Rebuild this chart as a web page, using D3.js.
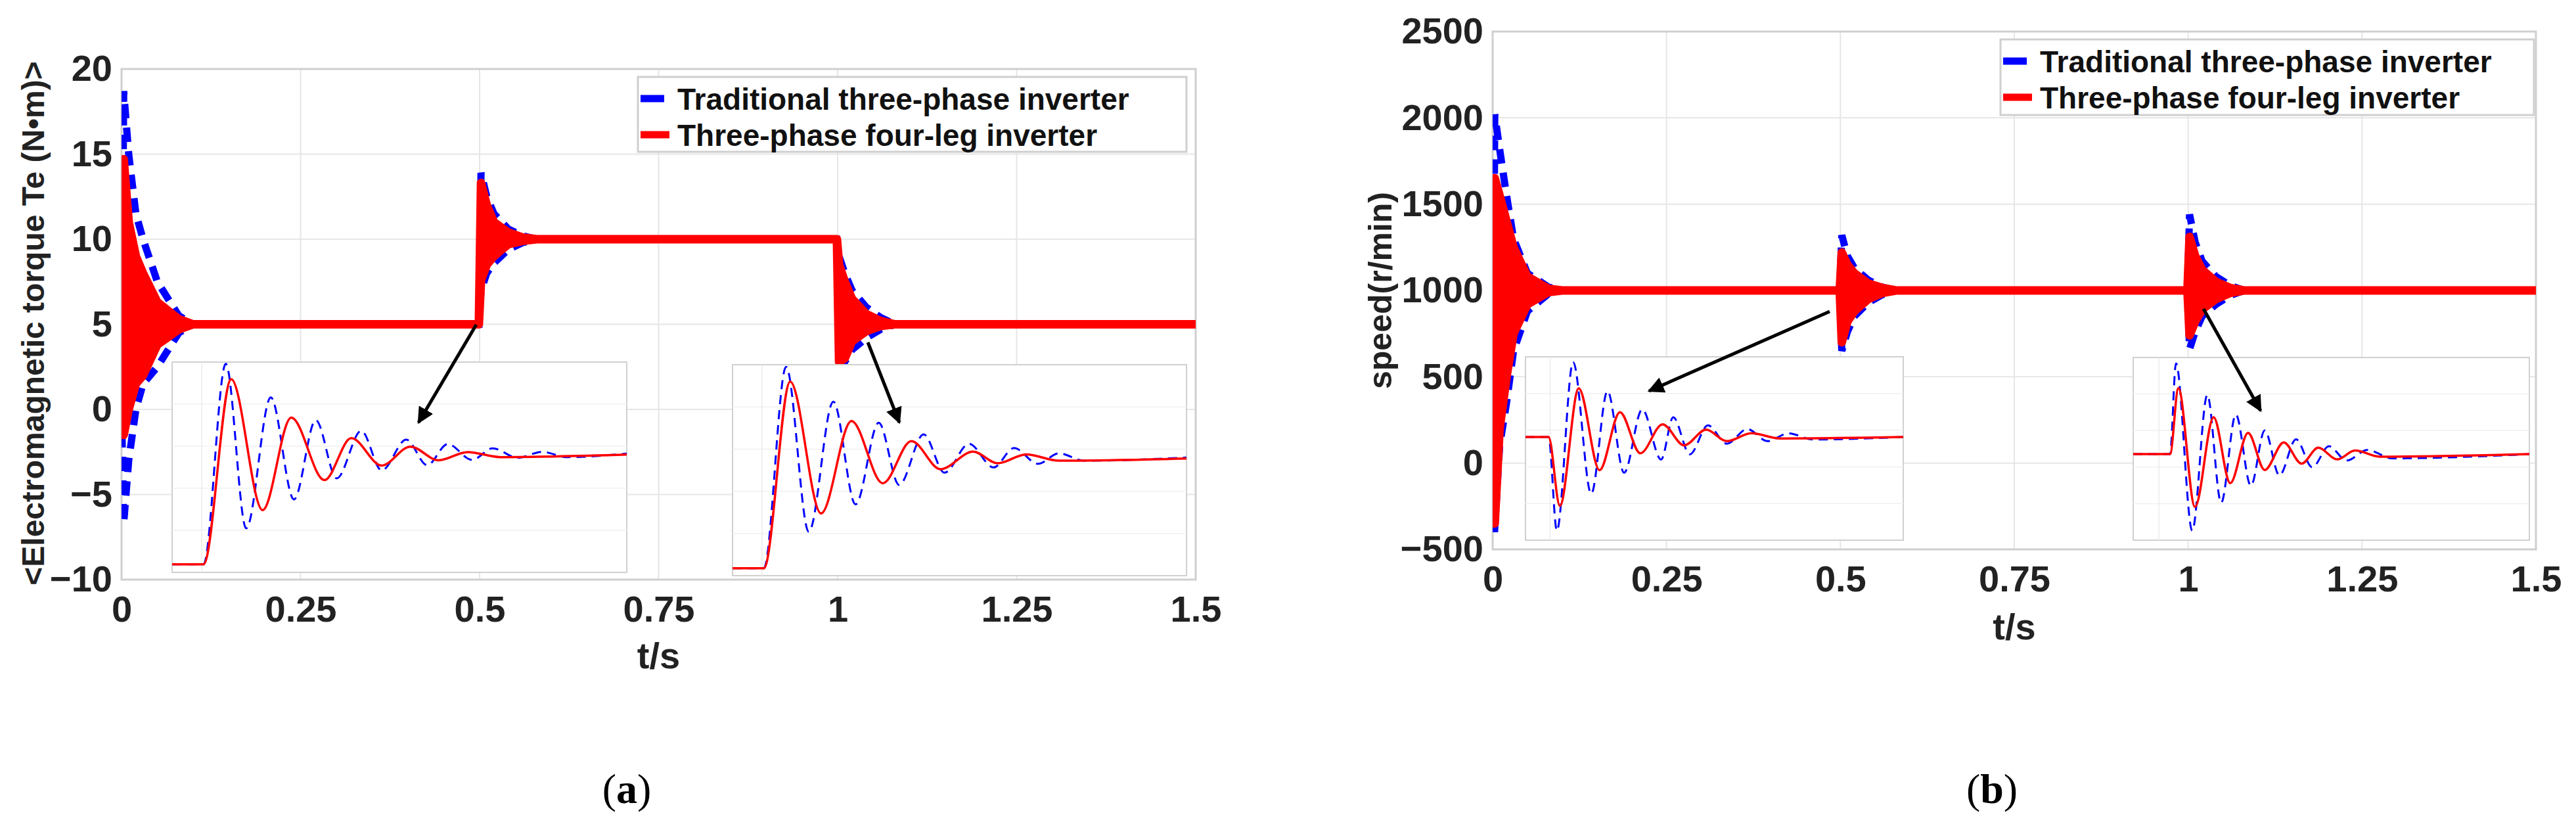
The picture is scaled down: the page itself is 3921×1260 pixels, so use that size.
<!DOCTYPE html>
<html><head><meta charset="utf-8">
<script src="https://cdn.jsdelivr.net/npm/d3@7"></script>
<style>body{margin:0;background:#fff}svg{display:block}</style>
</head><body>
<script>
// ---------- data ----------
const xTicks = [0, 0.25, 0.5, 0.75, 1, 1.25, 1.5];
const xTickLabels = ["0", "0.25", "0.5", "0.75", "1", "1.25", "1.5"];
const torqueTicks = [-10, -5, 0, 5, 10, 15, 20];
const speedTicks = [-500, 0, 500, 1000, 1500, 2000, 2500];
const seriesNames = ["Traditional three-phase inverter", "Three-phase four-leg inverter"];

const envT = [0, 0.003, 0.01, 0.02, 0.03, 0.05, 0.08, 0.1, 0.499, 0.502, 0.51, 0.52, 0.54, 0.56, 0.58, 0.999, 1.002, 1.01, 1.02, 1.04, 1.06, 1.08, 1.5];
const torqueRedHi  = [0, 14.7, 11, 9, 8, 6.3, 5.3, 5, 5, 13.3, 12, 11, 10.4, 10.1, 10, 10, 8.5, 7.5, 6.5, 5.6, 5.2, 5, 5];
const torqueRedLo  = [0, -1.5, 0, 1.5, 2, 3.8, 4.7, 5, 5, 7.6, 8.5, 9, 9.7, 9.9, 10, 10, 2.8, 3, 4, 4.6, 4.9, 5, 5];
const torqueBlueHi = [0, 18.7, 15, 11.5, 10, 7.5, 5.5, 5, 5, 13.9, 12.5, 11.5, 10.6, 10.2, 10, 10, 9, 8, 7, 6, 5.4, 5, 5];
const torqueBlueLo = [0, -6.7, -3, 0, 1.5, 2.5, 4.5, 5, 5, 7, 8, 8.6, 9.4, 9.8, 10, 10, 2.5, 2.8, 3.5, 4.2, 4.7, 5, 5];

const speedRedHi  = [-350, 1650, 1550, 1400, 1250, 1080, 1010, 1000, 1000, 1220, 1150, 1100, 1040, 1015, 1000, 1000, 1310, 1200, 1120, 1050, 1015, 1000, 1000];
const speedRedLo  = [-350, -350, 200, 500, 750, 920, 990, 1000, 1000, 700, 820, 880, 950, 985, 1000, 1000, 740, 820, 890, 950, 985, 1000, 1000];
const speedBlueHi = [-380, 2020, 1820, 1550, 1300, 1100, 1020, 1000, 1000, 1320, 1200, 1130, 1060, 1020, 1000, 1000, 1440, 1280, 1170, 1080, 1030, 1000, 1000];
const speedBlueLo = [-380, -380, 100, 350, 650, 880, 980, 1000, 1000, 650, 760, 850, 930, 975, 1000, 1000, 660, 760, 850, 920, 970, 1000, 1000];

// inset traces (local units 0..100)
const tInset1Red  = [[0,3.8],[6.9,3.8],[13,91.9],[19.9,29.6],[26.2,73.6],[33.5,43.9],[39.4,63.8],[46.1,50.8],[52.4,59.8],[58.6,53.3],[65,57.2],[72.3,54.8],[100,56]];
const tInset1Blue = [[0,3.8],[6.9,3.8],[11.8,99.2],[16.3,20.9],[21.7,83.2],[26.8,34.7],[31.6,72.4],[36.2,44.7],[41.6,67.3],[46.1,48.5],[51.5,63.1],[56.1,51],[60.6,61],[66,53.5],[70.5,59],[76,54.5],[81.4,57.3],[86.8,54.8],[100,56.5]];
const tInset2Red  = [[0,3.5],[6.9,3.5],[12.7,92],[19.5,29.5],[26.2,73.3],[33.1,43.8],[39.4,63.8],[45.8,50.5],[53,58.8],[58.4,53.3],[64.7,57.5],[71.9,54.5],[100,55.5]];
const tInset2Blue = [[0,3.5],[6.9,3.5],[11.8,99],[16.8,20.8],[22.2,82.5],[27.1,33.8],[32.2,72.5],[36.7,43],[42.1,67],[46.7,48.8],[52.1,62.5],[57.5,51.3],[62,60.5],[67.3,53],[71.9,58],[77.4,54.5],[100,56]];
const sInset1Red  = [[0,56.3],[6.1,56.3],[9.1,18.7],[14.1,82.8],[19.6,38.2],[25,69.8],[30.4,47.4],[36.3,63.2],[42,51.7],[47.8,60.3],[53.3,54],[59.8,58.3],[67.4,55.5],[100,56.3]];
const sInset1Blue = [[0,56.3],[6.1,56.3],[8.3,5.2],[12.6,97.1],[17.4,25.3],[21.7,81.3],[26.1,36.8],[30.9,71.3],[35.9,44],[39.1,67],[43.5,46.8],[48.3,62.6],[53.3,52.6],[58.7,60.6],[64.1,54],[69.6,58.3],[76.1,54.9],[100,56.3]];
const sInset2Red  = [[0,47.1],[9.3,47.1],[11.4,83.2],[15.6,18.2],[20.3,67.3],[24.5,31.2],[29,58.7],[33.2,38.4],[38,53.5],[42.5,41.9],[46.7,50.6],[51.5,44.2],[56,49.1],[62.2,45.7],[100,47.1]];
const sInset2Blue = [[0,47.1],[9.3,47.1],[10.8,96.8],[14.9,5.2],[18.7,79.5],[22.2,20.5],[25.9,68.8],[29.7,29.8],[33.2,60.1],[36.9,35.5],[41.1,55.2],[45.2,39.9],[49.4,51.4],[53.9,43.6],[59.1,49.4],[65.4,44.8],[100,47.1]];

// ---------- drawing ----------
const W = 3921, H = 1260;
const svg = d3.select("body").append("svg").attr("width", W).attr("height", H);
const defs = svg.append("defs");
defs.append("marker").attr("id","arr").attr("viewBox","0 0 10 10").attr("refX",9).attr("refY",5)
  .attr("markerWidth",5).attr("markerHeight",5).attr("orient","auto-start-reverse")
  .append("path").attr("d","M0,0 L10,5 L0,10 z").attr("fill","#000");
const FONT = "'Liberation Sans', Arial, sans-serif";

function panel(cfg, idx) {
  const x = d3.scaleLinear().domain([0, 1.5]).range([cfg.x0, cfg.x1]);
  const y = d3.scaleLinear().domain(cfg.yDomain).range([cfg.y1, cfg.y0]);
  const g = svg.append("g");
  defs.append("clipPath").attr("id","clip"+idx).append("rect")
    .attr("x",cfg.x0).attr("y",cfg.y0).attr("width",cfg.x1-cfg.x0).attr("height",cfg.y1-cfg.y0);
  g.append("g").selectAll("line").data(xTicks).join("line")
    .attr("x1",d=>x(d)).attr("x2",d=>x(d)).attr("y1",cfg.y0).attr("y2",cfg.y1)
    .attr("stroke","#e6e6e6").attr("stroke-width",2);
  g.append("g").selectAll("line").data(cfg.yTicks).join("line")
    .attr("y1",d=>y(d)).attr("y2",d=>y(d)).attr("x1",cfg.x0).attr("x2",cfg.x1)
    .attr("stroke","#e6e6e6").attr("stroke-width",2);
  g.append("rect").attr("x",cfg.x0).attr("y",cfg.y0).attr("width",cfg.x1-cfg.x0).attr("height",cfg.y1-cfg.y0)
    .attr("fill","none").attr("stroke","#cfcfcf").attr("stroke-width",3);
  const xa = g.append("g").attr("transform",`translate(0,${cfg.y1})`)
    .call(d3.axisBottom(x).tickValues(xTicks).tickFormat((d,i)=>xTickLabels[i]).tickSize(0).tickPadding(22));
  const ya = g.append("g").attr("transform",`translate(${cfg.x0},0)`)
    .call(d3.axisLeft(y).tickValues(cfg.yTicks).tickFormat(d=>d<0?"\u2212"+Math.abs(d):d).tickSize(0).tickPadding(14));
  [xa, ya].forEach(a => { a.select(".domain").remove();
    a.selectAll("text").attr("font-family",FONT).attr("font-weight","bold").attr("font-size",56).attr("fill","#222"); });
  xa.selectAll("text").attr("dy","0.75em");
  const tr = g.append("g").attr("clip-path",`url(#clip${idx})`);
  const pts = (arr) => envT.map((t,i)=>[t, arr[i]]);
  const line = d3.line().x(d=>x(d[0])).y(d=>y(d[1]));
  [cfg.blueHi, cfg.blueLo].forEach(a => tr.append("path").attr("d", line(pts(a)))
    .attr("fill","none").attr("stroke","#0000ff").attr("stroke-width",11).attr("stroke-dasharray","22,14"));
  const area = d3.area().x((d,i)=>x(envT[i])).y0((d,i)=>y(cfg.redLo[i])).y1((d,i)=>y(cfg.redHi[i]));
  tr.append("path").attr("d", area(envT)).attr("fill","#ff0000").attr("stroke","#ff0000").attr("stroke-width",13).attr("stroke-linejoin","round");
  const L = cfg.legend;
  g.append("rect").attr("x",L.x).attr("y",L.y).attr("width",L.w).attr("height",L.h)
    .attr("fill","#fff").attr("stroke","#cfcfcf").attr("stroke-width",3);
  const colors = ["#0000ff","#ff0000"];
  seriesNames.forEach((s,i) => {
    const yy = L.y + 33 + i*55;
    g.append("line").attr("x1",L.x+4).attr("x2",L.x+(i?48:40)).attr("y1",yy).attr("y2",yy)
      .attr("stroke",colors[i]).attr("stroke-width",11);
    g.append("text").attr("x",L.x+60).attr("y",yy).attr("dy","0.36em").text(s)
      .attr("font-family",FONT).attr("font-weight","bold").attr("font-size",46).attr("fill","#111");
  });
  cfg.insets.forEach((ins) => {
    const ix = d3.scaleLinear().domain([0,100]).range([ins.x0, ins.x1]);
    const iy = d3.scaleLinear().domain([0,100]).range([ins.y1, ins.y0]);
    const ig = g.append("g");
    ig.append("rect").attr("x",ins.x0).attr("y",ins.y0).attr("width",ins.x1-ins.x0).attr("height",ins.y1-ins.y0)
      .attr("fill","#fff").attr("stroke","#d0d0d0").attr("stroke-width",2);
    [20,40,60,80].forEach(v => ig.append("line").attr("x1",ins.x0).attr("x2",ins.x1).attr("y1",iy(v)).attr("y2",iy(v))
      .attr("stroke","#f0f0f0").attr("stroke-width",1.5));
    ig.append("line").attr("x1",ix(6.5)).attr("x2",ix(6.5)).attr("y1",ins.y0).attr("y2",ins.y1).attr("stroke","#ececec").attr("stroke-width",1.5);
    const il = d3.line().x(d=>ix(d[0])).y(d=>iy(d[1])).curve(d3.curveMonotoneX);
    ig.append("path").attr("d", il(ins.blue)).attr("fill","none").attr("stroke","#0000ff").attr("stroke-width",3).attr("stroke-dasharray","14,9");
    ig.append("path").attr("d", il(ins.red)).attr("fill","none").attr("stroke","#ff0000").attr("stroke-width",3.5);
  });
  cfg.arrows.forEach(a => g.append("line").attr("x1",a[0]).attr("y1",a[1]).attr("x2",a[2]).attr("y2",a[3])
    .attr("stroke","#000").attr("stroke-width",5).attr("marker-end","url(#arr)"));
  g.append("text").attr("transform",`translate(${cfg.ylab[0]},${cfg.ylab[1]}) rotate(-90)`).attr("text-anchor","middle")
    .attr("dy","0.35em").text(cfg.ylabel).attr("font-family",FONT).attr("font-weight","bold").attr("font-size",cfg.ylabSize).attr("fill","#222");
  g.append("text").attr("x",(cfg.x0+cfg.x1)/2).attr("y",cfg.xlabY).attr("text-anchor","middle").attr("dy","0.35em")
    .text("t/s").attr("font-family",FONT).attr("font-weight","bold").attr("font-size",56).attr("fill","#222");
  const cap = g.append("text").attr("x",cfg.capX).attr("y",1200).attr("text-anchor","middle").attr("dy","0.35em")
    .attr("font-family","'Liberation Serif', serif").attr("font-size",64).attr("fill","#000");
  cap.append("tspan").text("(");
  cap.append("tspan").attr("font-weight","bold").text(cfg.cap);
  cap.append("tspan").text(")");
}

panel({
  x0:185, x1:1820, y0:105, y1:882, yDomain:[-10,20], yTicks:torqueTicks,
  redHi:torqueRedHi, redLo:torqueRedLo, blueHi:torqueBlueHi, blueLo:torqueBlueLo,
  legend:{x:971, y:117, w:835, h:114},
  insets:[{x0:262,x1:954,y0:551,y1:871,red:tInset1Red,blue:tInset1Blue},
          {x0:1115,x1:1806,y0:555,y1:876,red:tInset2Red,blue:tInset2Blue}],
  arrows:[[725,494,637,643],[1321,521,1369,643]],
  ylabel:"<Electromagnetic torque Te (N\u2022m)>", ylab:[50,492], ylabSize:48, xlabY:997, capX:954, cap:"a"
}, 1);

panel({
  x0:2272, x1:3860, y0:48, y1:836, yDomain:[-500,2500], yTicks:speedTicks,
  redHi:speedRedHi, redLo:speedRedLo, blueHi:speedBlueHi, blueLo:speedBlueLo,
  legend:{x:3045, y:60, w:812, h:115},
  insets:[{x0:2322,x1:2897,y0:543,y1:822,red:sInset1Red,blue:sInset1Blue},
          {x0:3247,x1:3850,y0:544,y1:822,red:sInset2Red,blue:sInset2Blue}],
  arrows:[[2785,474,2510,595],[3354,470,3441,625]],
  ylabel:"speed(r/min)", ylab:[2100,442], ylabSize:50, xlabY:953, capX:3032, cap:"b"
}, 2);
</script>
</body></html>
